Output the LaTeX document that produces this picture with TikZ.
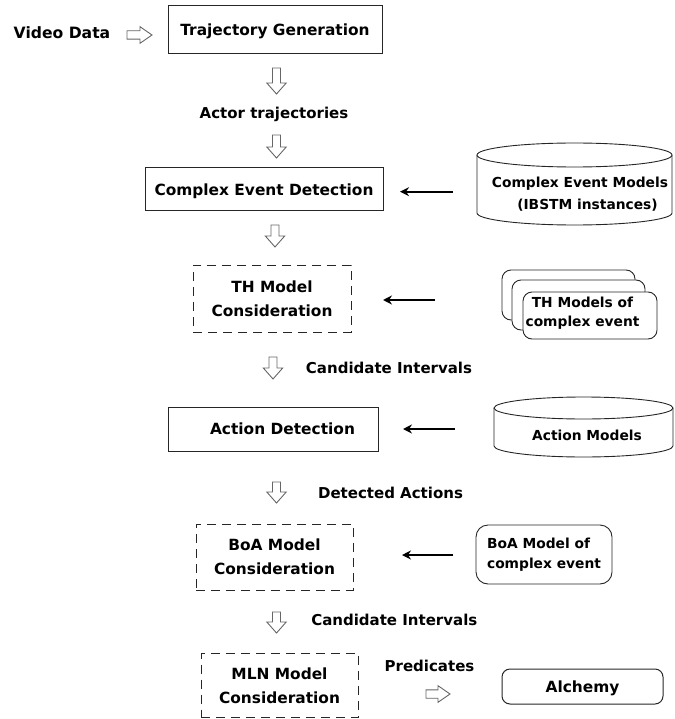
\documentclass[tikz,border=0pt]{standalone}
\usepackage{fontspec}
\setmainfont{DejaVu Sans}
\usetikzlibrary{arrows.meta}
\begin{document}
\begin{tikzpicture}[x=1pt,y=-1pt,
  box/.style={draw=black!85, line width=1pt, inner sep=0pt, align=center,
    font=\bfseries\fontsize{15.4}{24}\selectfont},
  dashbox/.style={box, dash pattern=on 9pt off 6pt},
  oneline/.style={text height=11.2pt, text depth=0pt},
  lbl/.style={inner sep=0pt, oneline, font=\bfseries\fontsize{15}{18}\selectfont},
  small/.style={inner sep=0pt, align=center, font=\bfseries\fontsize{13.8}{20}\selectfont},
  db/.style={draw=black!85, line width=0.9pt, fill=white},
  feed/.style={line width=2pt, -{Stealth[length=9pt,width=9pt]}},
  hollow/.style={draw=black!60, fill=white, line width=0.9pt, line join=miter},
  pics/downarrow/.style={code={
    \draw[hollow] (-4,0) -- (4,0) -- (4,#1-11) -- (9.7,#1-11) -- (0,#1)
      -- (-9.7,#1-11) -- (-4,#1-11) -- cycle;}},
  pics/rightarrow/.style={code={
    \draw[hollow] (0,-4.2) -- (#1-12,-4.2) -- (#1-12,-8.3) -- (#1,0)
      -- (#1-12,8.3) -- (#1-12,4.2) -- (0,4.2) -- cycle;}},
]
\useasboundingbox (0,0) rectangle (674,719);

% ---- main processing chain ----
\node[lbl, font=\bfseries\fontsize{15.6}{18}\selectfont] (video) at (62,33.3) {Video Data};
\pic at (127,35) {rightarrow=25};
\node[box, oneline, minimum width=214, minimum height=48] (tg) at (275,30) {Trajectory Generation};

\pic at (276.5,68) {downarrow=26};
\node[lbl] (actor) at (274,113) {Actor trajectories};
\pic at (276.5,135) {downarrow=23};

\node[box, oneline, minimum width=238, minimum height=43] (ced) at (264,189.5) {Complex Event Detection};
\pic at (275,225) {downarrow=22};

\node[dashbox, minimum width=158, minimum height=67] (thm) at (272,298.5) {TH Model\\Consideration};

\pic at (273,357) {downarrow=22};
\node[lbl] (cand1) at (389,367.5) {Candidate Intervals};

\node[box, oneline, minimum width=210, minimum height=44] (ad) at (273,429) {\hspace*{19pt}Action Detection};

\pic at (276.5,482) {downarrow=21};
\node[lbl] (det) at (390.5,493) {Detected Actions};

\node[dashbox, minimum width=157, minimum height=66] (boa) at (274.5,557) {BoA Model\\Consideration};

\pic at (276.5,612) {downarrow=21};
\node[lbl] (cand2) at (394.3,620) {Candidate Intervals};

\node[dashbox, minimum width=157, minimum height=64.5] (mln) at (279.5,685.3) {MLN Model\\Consideration};
\node[lbl] (pred) at (429.5,666) {Predicates};
\pic at (426,694) {rightarrow=24};
\node[box, oneline, rounded corners=8pt, minimum width=161, minimum height=35] (alch) at (582.5,686.5) {Alchemy};

% ---- model stores ----
% complex event models (cylinder)
\draw[db] (477,155) -- (477,213) arc[start angle=180, end angle=0, x radius=97.5, y radius=12] -- (672,155);
\draw[db] (574.5,155) ellipse[x radius=97.5, y radius=12];
\node[small, font=\bfseries\fontsize{13.8}{22}\selectfont] (cem) at (580,194) {Complex Event Models\\\hspace*{15pt}(IBSTM instances)};

% TH models (stack of documents)
\node[db, rounded corners=9pt, minimum width=133, minimum height=50, inner sep=0pt] (thback) at (568.5,295) {};
\node[db, rounded corners=9pt, minimum width=133, minimum height=50, inner sep=0pt] (thmid) at (578.5,305) {};
\node[db, rounded corners=9pt, minimum width=134, minimum height=47, inner sep=0pt] (thfront) at (590,315.5) {};
\node[small, font=\bfseries\fontsize{13.8}{19}\selectfont] (thtext) at (582.5,313.5) {TH Models of\\complex event};

% action models (cylinder)
\draw[db] (494,408) -- (494,446) arc[start angle=180, end angle=0, x radius=89.5, y radius=11] -- (673,408);
\draw[db] (583.5,408) ellipse[x radius=89.5, y radius=11];
\node[small, oneline] (am) at (587,435) {Action Models};

% BoA model
\node[db, small, align=left, rounded corners=12pt, minimum width=136, minimum height=59] (boadb) at (544,554.5) {BoA Model of\\complex event};

% ---- model feeds ----
\coordinate (f1s) at (453,191.7);
\coordinate (f1e) at (400,191.7);
\coordinate (f2s) at (435,300);
\coordinate (f2e) at (383,300);
\coordinate (f3s) at (455,429);
\coordinate (f3e) at (403,429);
\coordinate (f4s) at (453,555);
\coordinate (f4e) at (402,555);
\draw[feed] (f1s) -- (f1e);
\draw[feed] (f2s) -- (f2e);
\draw[feed] (f3s) -- (f3e);
\draw[feed] (f4s) -- (f4e);
\end{tikzpicture}
\end{document}
